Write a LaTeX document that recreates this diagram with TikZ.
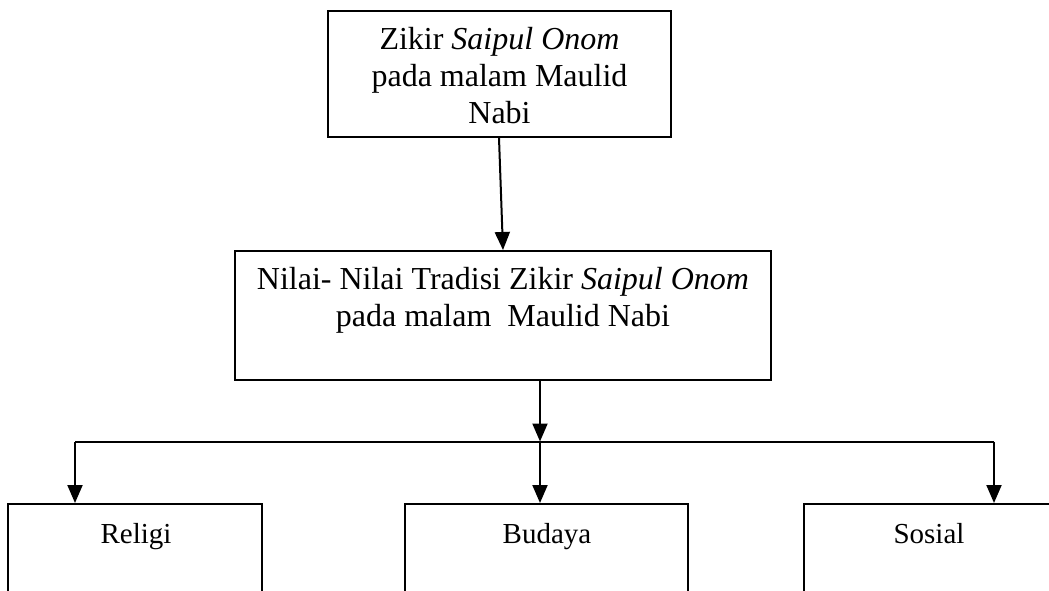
\documentclass[tikz,border=0pt]{standalone}
\usepackage{fontspec}
\setmainfont{Liberation Serif}
\usetikzlibrary{arrows.meta}

\begin{document}
\begin{tikzpicture}[x=1pt, y=-1pt,
        kotak/.style={draw, line width=2pt, inner sep=0pt},
        teks/.style={align=center, inner sep=0pt, font=\fontsize{32}{37}\selectfont},
        teksbawah/.style={inner sep=0pt, anchor=base, font=\fontsize{29}{33}\selectfont},
        panah/.style={line width=2pt, -{Triangle[length=18pt, width=15pt]}},
        garis/.style={line width=2pt}]
    \useasboundingbox (0,0) rectangle (1049,591);

    % kotak atas
    \node[kotak, minimum width=343pt, minimum height=126pt] (zikir) at (499.5,74) {};
    \node[teks] (zikirteks) at (499.5,76) {Zikir \textit{Saipul Onom}\\pada malam Maulid\\Nabi};

    % kotak tengah
    \node[kotak, minimum width=536pt, minimum height=129pt] (nilai) at (503,315.5) {};
    \node[teks] (nilaiteks) at (503,300) {Nilai- Nilai Tradisi Zikir \textit{Saipul Onom}\\pada malam~ Maulid Nabi};

    % kotak bawah
    \node[kotak, minimum width=254pt, minimum height=160pt, anchor=north] (religi) at (135,503) {};
    \node[teksbawah] (religiteks) at (136,543) {Religi};
    \node[kotak, minimum width=283pt, minimum height=160pt, anchor=north] (budaya) at (546.5,503) {};
    \node[teksbawah] (budayateks) at (547,543) {Budaya};
    \node[kotak, minimum width=252pt, minimum height=160pt, anchor=north] (sosial) at (930,503) {};
    \node[teksbawah] (sosialteks) at (929,543) {Sosial};

    \coordinate (cabang) at (540,441.5);
    \coordinate (kiri) at (75,441.5);
    \coordinate (kanan) at (994,441.5);

    \draw[panah] ([xshift=-0.5pt]zikir.south) -- (nilai.north);
    \draw[panah] (nilai.south -| cabang) -- (cabang);
    \draw[garis] (kiri) -- (kanan);
    \draw[panah] (kiri) -- (kiri |- religi.north);
    \draw[panah] (cabang) -- (cabang |- budaya.north);
    \draw[panah] (kanan) -- (kanan |- sosial.north);
\end{tikzpicture}
\end{document}
